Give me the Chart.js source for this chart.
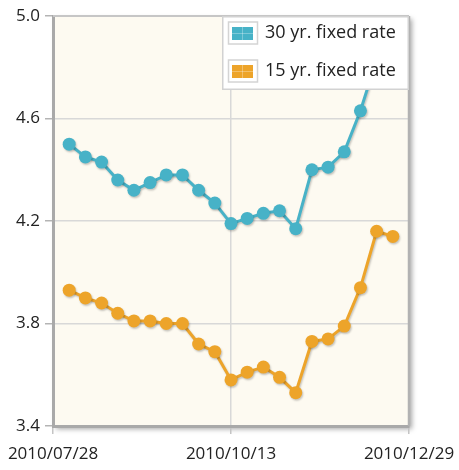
<!DOCTYPE html>
<html>
<head>
<meta charset="utf-8">
<title>Mortgage rates</title>
<script src="https://cdn.jsdelivr.net/npm/chart.js@4.4.1/dist/chart.umd.min.js"></script>
<style>
    html, body { margin: 0; padding: 0; background: #ffffff; }
    #wrap { width: 459px; height: 470px; }
</style>
</head>
<body>
<div id="wrap"><canvas id="rateChart" width="459" height="470"></canvas></div>
<script>
// Weekly mortgage rates
const weeks = [
    '2010/08/04', '2010/08/11', '2010/08/18', '2010/08/25', '2010/09/01', '2010/09/08', '2010/09/15',
    '2010/09/22', '2010/09/29', '2010/10/06', '2010/10/13', '2010/10/20', '2010/10/27', '2010/11/03',
    '2010/11/10', '2010/11/17', '2010/11/24', '2010/12/01', '2010/12/08', '2010/12/15', '2010/12/22'
];
const rate30 = [4.50, 4.45, 4.43, 4.36, 4.32, 4.35, 4.38, 4.38, 4.32, 4.27, 4.19,
    4.21, 4.23, 4.24, 4.17, 4.40, 4.41, 4.47, 4.63, 4.83, 4.81];
const rate15 = [3.93, 3.90, 3.88, 3.84, 3.81, 3.81, 3.80, 3.80, 3.72, 3.69, 3.58,
    3.61, 3.63, 3.59, 3.53, 3.73, 3.74, 3.79, 3.94, 4.16, 4.14];
const seriesNames = ['30 yr. fixed rate', '15 yr. fixed rate'];
const tickDates = ['2010/07/28', '2010/10/13', '2010/12/29'];

const BLUE = '#47b2c7';
const ORANGE = '#eda42a';

// days since the first tick date
const dayMs = 86400000;
function dayOf(s) {
    return (Date.parse(s.replace(/\//g, '-') + 'T00:00:00Z') - Date.parse(tickDates[0].replace(/\//g, '-') + 'T00:00:00Z')) / dayMs;
}
const xMax = dayOf(tickDates[tickDates.length - 1]);
const xStep = dayOf(tickDates[1]);

function toPoints(values) {
    return weeks.map(function(w, i) { return { x: dayOf(w), y: values[i] }; });
}

// plot background, frame, shadow and the boxed legend on top of the lines
const decorPlugin = {
    id: 'decor',
    beforeDraw(chart) {
        const ctx = chart.ctx;
        const a = chart.chartArea;
        ctx.save();
        ctx.shadowColor = 'rgba(0,0,0,0.35)';
        ctx.shadowBlur = 5;
        ctx.shadowOffsetX = 3;
        ctx.shadowOffsetY = 3;
        ctx.fillStyle = '#fdfaf1';
        ctx.fillRect(a.left, a.top, a.width, a.height);
        ctx.restore();
    },
    beforeDatasetsDraw(chart) {
        const ctx = chart.ctx;
        const a = chart.chartArea;
        ctx.save();
        ctx.strokeStyle = '#c6c6c6';
        ctx.lineWidth = 2;
        ctx.beginPath();
        ctx.moveTo(a.left, a.top);
        ctx.lineTo(a.right, a.top);
        ctx.stroke();
        ctx.strokeStyle = '#b2b2b2';
        ctx.lineWidth = 2.5;
        ctx.beginPath();
        ctx.moveTo(a.right, a.top);
        ctx.lineTo(a.right, a.bottom);
        ctx.stroke();
        ctx.restore();
        // soft shadow under lines and points
        ctx.save();
        ctx.shadowColor = 'rgba(0,0,0,0.22)';
        ctx.shadowBlur = 2;
        ctx.shadowOffsetX = 1;
        ctx.shadowOffsetY = 1.5;
    },
    afterDatasetsDraw(chart) {
        const ctx = chart.ctx;
        ctx.restore();
        const a = chart.chartArea;
        const w = 187, h = 74;
        const x0 = a.right - w, y0 = a.top;
        ctx.save();
        ctx.fillStyle = '#ffffff';
        ctx.fillRect(x0, y0, w, h);
        ctx.strokeStyle = '#d2d2d2';
        ctx.lineWidth = 1.5;
        ctx.strokeRect(x0 + 0.75, y0 + 0.75, w - 1.5, h - 1.5);
        chart.data.datasets.forEach(function(ds, i) {
            const cy = y0 + 17 + i * 38;
            ctx.strokeStyle = '#d4d4d4';
            ctx.lineWidth = 1.5;
            ctx.strokeRect(x0 + 6.5, cy - 11, 29, 22);
            ctx.fillStyle = ds.borderColor;
            ctx.fillRect(x0 + 10, cy - 6, 21, 13);
            ctx.strokeStyle = 'rgba(255,255,255,0.3)';
            ctx.lineWidth = 1;
            ctx.beginPath();
            ctx.moveTo(x0 + 20.5, cy - 6);
            ctx.lineTo(x0 + 20.5, cy + 7);
            ctx.moveTo(x0 + 10, cy + 0.5);
            ctx.lineTo(x0 + 31, cy + 0.5);
            ctx.stroke();
            ctx.fillStyle = '#222222';
            ctx.font = '18px "Open Sans"';
            ctx.textBaseline = 'middle';
            ctx.textAlign = 'left';
            ctx.fillText(ds.label, x0 + 43, cy);
        });
        ctx.restore();
    }
};

document.addEventListener('DOMContentLoaded', function() {
    const ctx = document.getElementById('rateChart');
    new Chart(ctx, {
        type: 'line',
        data: {
            datasets: [
                {
                    label: seriesNames[0],
                    data: toPoints(rate30),
                    borderColor: BLUE,
                    backgroundColor: BLUE,
                    pointBackgroundColor: BLUE,
                    borderWidth: 3,
                    pointRadius: 6.5,
                    pointBorderWidth: 0,
                    tension: 0
                },
                {
                    label: seriesNames[1],
                    data: toPoints(rate15),
                    borderColor: ORANGE,
                    backgroundColor: ORANGE,
                    pointBackgroundColor: ORANGE,
                    borderWidth: 3,
                    pointRadius: 6.5,
                    pointBorderWidth: 0,
                    tension: 0
                }
            ]
        },
        options: {
            responsive: false,
            animation: false,
            devicePixelRatio: 1,
            layout: { padding: { top: 16, right: 50, left: 0, bottom: 0 } },
            plugins: {
                legend: { display: false },
                tooltip: { enabled: false }
            },
            scales: {
                x: {
                    type: 'linear',
                    min: 0,
                    max: xMax,
                    afterFit: function(scale) {
                        scale.height = 44;
                        scale.paddingLeft = 0;
                        scale.paddingRight = 0;
                    },
                    ticks: {
                        stepSize: xStep,
                        autoSkip: false,
                        maxRotation: 0,
                        padding: 10,
                        color: '#222222',
                        font: { family: 'Open Sans', size: 17 },
                        callback: function(value, index) { return tickDates[index]; }
                    },
                    grid: {
                        color: '#d8d8d8',
                        lineWidth: 1.5,
                        tickColor: '#c4c4c4',
                        tickLength: 8
                    },
                    border: { color: '#a9a9a9', width: 3 }
                },
                y: {
                    min: 3.4,
                    max: 5.0,
                    afterFit: function(scale) { scale.width = 53; },
                    ticks: {
                        stepSize: 0.4,
                        padding: 5,
                        color: '#222222',
                        font: { family: 'Open Sans', size: 17 },
                        callback: function(value) { return value.toFixed(1); }
                    },
                    grid: {
                        color: '#d8d8d8',
                        lineWidth: 1.5,
                        tickColor: '#b4b4b4',
                        tickLength: 8
                    },
                    border: { color: '#a9a9a9', width: 3 }
                }
            }
        },
        plugins: [decorPlugin]
    });
});
</script>
</body>
</html>
